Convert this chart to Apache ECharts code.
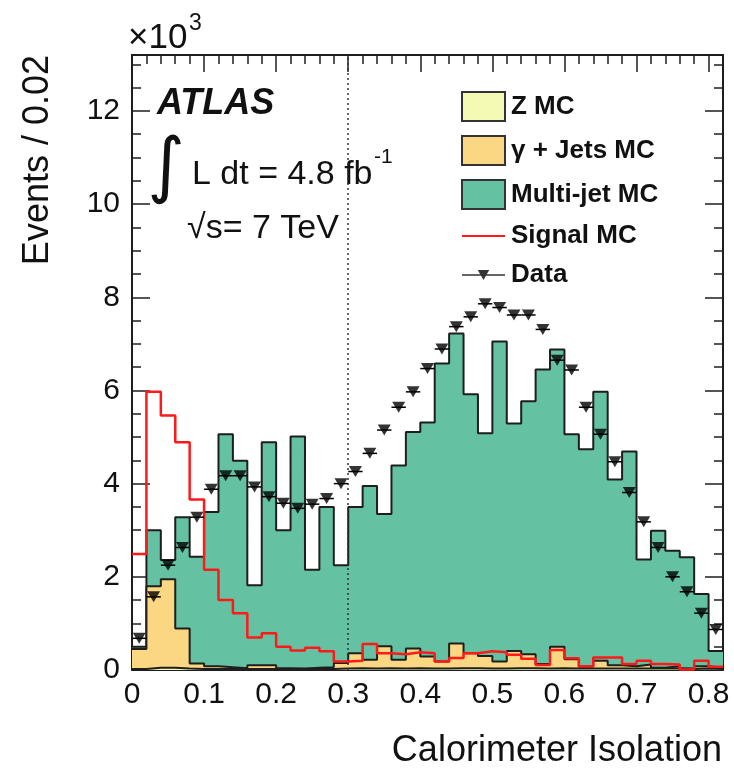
<!DOCTYPE html>
<html><head><meta charset="utf-8">
<script src="https://cdn.jsdelivr.net/npm/echarts@6/dist/echarts.min.js"></script>
<style>html,body{margin:0;padding:0;background:#fff}#c{width:734px;height:774px}</style>
</head><body><div id="c"></div>
<script>
// ---- chart values ----
const binWidth = 0.02;
const xMin = 0, xMax = 0.82;
const yMin = 0, yMax = 13.2;
const cutValue = 0.3;
const xTickLabels = ['0','0.1','0.2','0.3','0.4','0.5','0.6','0.7','0.8'];
const yTickLabels = ['0','2','4','6','8','10','12'];
const seriesNames = ['Z MC','γ + Jets MC','Multi-jet MC','Signal MC','Data'];

const zMC = [0.02,0.05,0.05,0.03,0.02,0.02,0.02,0.02,0.02,0.02,
             0.02,0.02,0.02,0.02,0.03,0.04,0.03,0.04,0.03,0.04,
             0.03,0.03,0.04,0.04,0.03,0.03,0.04,0.04,0.03,0.04,
             0.03,0.03,0.03,0.03,0.03,0.03,0.03,0.03,0.02,0.03,
             0.02];
const gammaJetsMC = [0.43,1.75,1.90,0.86,0.12,0.06,0.04,0.02,0.08,0.08,
                     0.02,0.01,0.03,0.04,0.12,0.32,0.19,0.47,0.19,0.42,
                     0.26,0.15,0.53,0.32,0.27,0.15,0.37,0.30,0.10,0.46,
                     0.20,0.04,0.17,0.07,0.05,0.09,0.02,0.05,0.01,0.05,
                     0.03];
const multiJetMC = [0.05,1.20,0.41,2.39,2.29,3.31,5.00,4.45,1.72,4.79,
                    2.96,4.98,2.10,3.44,2.10,3.14,3.73,2.84,4.17,4.65,
                    5.02,6.40,6.65,5.56,4.78,6.87,4.88,5.43,6.32,6.38,
                    4.83,4.67,5.77,3.99,4.61,2.25,2.94,2.48,2.39,1.55,
                    0.36];
const signalMC = [2.49,5.97,5.46,4.89,3.66,2.15,1.50,1.22,0.70,0.79,
                  0.50,0.42,0.48,0.40,0.18,0.20,0.56,0.36,0.34,0.38,
                  0.36,0.18,0.26,0.36,0.40,0.38,0.33,0.24,0.11,0.43,
                  0.25,0.08,0.27,0.27,0.13,0.20,0.13,0.12,0.01,0.20,
                  0.07];
const dataCounts = [0.68,1.57,2.25,2.63,3.28,3.88,4.17,4.17,3.93,3.72,
                    3.58,3.47,3.56,3.68,4.00,4.26,4.65,5.15,5.64,5.97,
                    6.47,6.89,7.37,7.58,7.86,7.78,7.62,7.62,7.31,6.65,
                    6.44,5.64,5.06,4.47,3.81,3.18,2.63,2.00,1.68,1.22,
                    0.87];

// ---- styling ----
const GREEN = '#64c1a2', GAMMA = '#fcd783', ZCOL = '#f4fab4', RED = '#ff1a1a', INK = '#1e1e1e';
const FONT = '"Liberation Sans", Arial, Helvetica, sans-serif';

const nBins = dataCounts.length;
const edges = [];
for (let i = 0; i <= nBins; i++) edges.push(Math.round((xMin + i * binWidth) * 1000) / 1000);
const centers = edges.slice(0, -1).map(e => Math.round((e + binWidth / 2) * 1000) / 1000);
const stackZ = zMC.slice();
const stackG = zMC.map((v, i) => v + gammaJetsMC[i]);
const stackMJ = stackG.map((v, i) => v + multiJetMC[i]);
function stepData(vals) {
  const d = vals.map((v, i) => [edges[i], v]);
  d.push([edges[nBins], vals[nBins - 1]]);
  return d;
}
function xLabel(v) {
  const i = Math.round(v / 0.1);
  return Math.abs(v - i * 0.1) < 1e-6 && xTickLabels[i] !== undefined ? xTickLabels[i] : '';
}
function yLabel(v) {
  const i = Math.round(v / 2);
  return Math.abs(v - i * 2) < 1e-6 && yTickLabels[i] !== undefined ? yTickLabels[i] : '';
}
const tickStyle = {color: INK, width: 1.5};
function majorX(pos, labels) {
  return {type: 'value', position: pos, min: xMin, max: xMax, interval: 0.1,
    axisLine: {show: true, onZero: false, lineStyle: {color: INK, width: 2}},
    axisTick: {show: true, inside: true, length: 17, lineStyle: tickStyle},
    axisLabel: {show: labels, showMaxLabel: false, fontFamily: FONT, fontSize: 30, color: '#111', margin: 10, formatter: xLabel},
    splitLine: {show: false}};
}
function minorX(pos) {
  return {type: 'value', position: pos, min: xMin, max: xMax, interval: binWidth,
    axisLine: {show: false, onZero: false},
    axisTick: {show: true, inside: true, length: 9, lineStyle: tickStyle},
    axisLabel: {show: false}, splitLine: {show: false}};
}
function majorY(pos, labels) {
  return {type: 'value', position: pos, min: yMin, max: yMax, interval: 2,
    axisLine: {show: true, onZero: false, lineStyle: {color: INK, width: 2}},
    axisTick: {show: true, inside: true, length: 18, lineStyle: tickStyle},
    axisLabel: {show: labels, showMaxLabel: false, fontFamily: FONT, fontSize: 30, color: '#111', margin: 12, formatter: yLabel},
    splitLine: {show: false}};
}
function minorY(pos) {
  return {type: 'value', position: pos, min: yMin, max: yMax, interval: 0.5,
    axisLine: {show: false, onZero: false},
    axisTick: {show: true, inside: true, length: 9, lineStyle: tickStyle},
    axisLabel: {show: false}, splitLine: {show: false}};
}
function histSeries(name, vals, color, z) {
  return {name: name, type: 'line', step: 'end', data: stepData(vals), symbol: 'none', showSymbol: false,
    xAxisIndex: 0, yAxisIndex: 0, z: z, silent: true,
    lineStyle: {color: INK, width: 2}, itemStyle: {color: color},
    areaStyle: {color: color, opacity: 1}};
}
function txt(x, y, text, font, align, extra) {
  return Object.assign({type: 'text', x: x, y: y, style: {text: text, font: font, fill: '#111',
    align: align, verticalAlign: 'middle', textAlign: align, textVerticalAlign: 'middle'}}, extra || {});
}

const chart = echarts.init(document.getElementById('c'), null, {renderer: 'canvas'});
chart.setOption({
  animation: false,
  backgroundColor: '#fff',
  grid: {left: 132, top: 55, width: 591, height: 615, containLabel: false},
  xAxis: [majorX('bottom', true), majorX('top', false), minorX('bottom'), minorX('top')],
  yAxis: [majorY('left', true), majorY('right', false), minorY('left'), minorY('right')],
  legend: {
    orient: 'vertical', left: 456, top: 86, itemWidth: 43, itemHeight: 29, itemGap: 13,
    selectedMode: false,
    textStyle: {fontFamily: FONT, fontSize: 26, fontWeight: 'bold', color: '#111', padding: [0, 0, 0, 1]},
    data: [
      {name: seriesNames[0], icon: 'rect', itemStyle: {color: ZCOL, borderColor: '#333', borderWidth: 2}},
      {name: seriesNames[1], icon: 'rect', itemStyle: {color: GAMMA, borderColor: '#333', borderWidth: 2}},
      {name: seriesNames[2], icon: 'rect', itemStyle: {color: GREEN, borderColor: '#333', borderWidth: 2}},
      {name: seriesNames[3], icon: 'path://M0,0H40V2H0Z', itemStyle: {color: RED, borderWidth: 0}},
      {name: seriesNames[4], icon: 'path://M0,9H60V11H0Z M22,3H38L30,17Z', itemStyle: {color: '#000', borderWidth: 0}}
    ]
  },
  series: [
    histSeries(seriesNames[2], stackMJ, GREEN, 2),
    histSeries(seriesNames[1], stackG, GAMMA, 3),
    histSeries(seriesNames[0], stackZ, ZCOL, 4),
    {name: seriesNames[3], type: 'line', step: 'end', data: stepData(signalMC), symbol: 'none', showSymbol: false,
     xAxisIndex: 0, yAxisIndex: 0, z: 5, silent: true,
     lineStyle: {color: RED, width: 2.5}, itemStyle: {color: RED},
     markLine: {silent: true, symbol: 'none', label: {show: false}, animation: false,
       lineStyle: {type: [2, 3], color: '#333', width: 1.5},
       data: [{xAxis: cutValue}]}},
    {name: 'Data bin width', type: 'custom', xAxisIndex: 0, yAxisIndex: 0, z: 6, silent: true,
     data: centers.map((c, i) => [c, dataCounts[i]]),
     renderItem: function (params, api) {
       const c = api.value(0), y = api.value(1);
       const p0 = api.coord([c - binWidth / 2, y]), p1 = api.coord([c + binWidth / 2, y]);
       return {type: 'line', shape: {x1: p0[0], y1: p0[1], x2: p1[0], y2: p1[1]}, style: {stroke: '#000', lineWidth: 1.5}};
     }},
    {name: seriesNames[4], type: 'scatter', xAxisIndex: 0, yAxisIndex: 0, z: 7, silent: true,
     data: centers.map((c, i) => [c, dataCounts[i]]),
     symbol: 'triangle', symbolRotate: 180, symbolSize: [13, 11], itemStyle: {color: '#000'}}
  ],
  graphic: [
    txt(128, 38, '×10', '35px ' + FONT, 'left'),
    txt(189, 24, '3', '23px ' + FONT, 'left'),
    txt(157, 104, 'ATLAS', 'italic bold 36px ' + FONT, 'left'),
    txt(166, 170, '∫', '72px "DejaVu Sans", sans-serif', 'center'),
    txt(192, 175, 'L dt = 4.8 fb', '34px ' + FONT, 'left'),
    txt(374, 157, '-1', '21px ' + FONT, 'left'),
    txt(187, 229, '√s= 7 TeV', '34px ' + FONT, 'left'),
    txt(38, 55, 'Events / 0.02', '36px ' + FONT, 'right', {rotation: Math.PI / 2}),
    txt(722, 751, 'Calorimeter Isolation', '36px ' + FONT, 'right')
  ]
});
</script></body></html>
